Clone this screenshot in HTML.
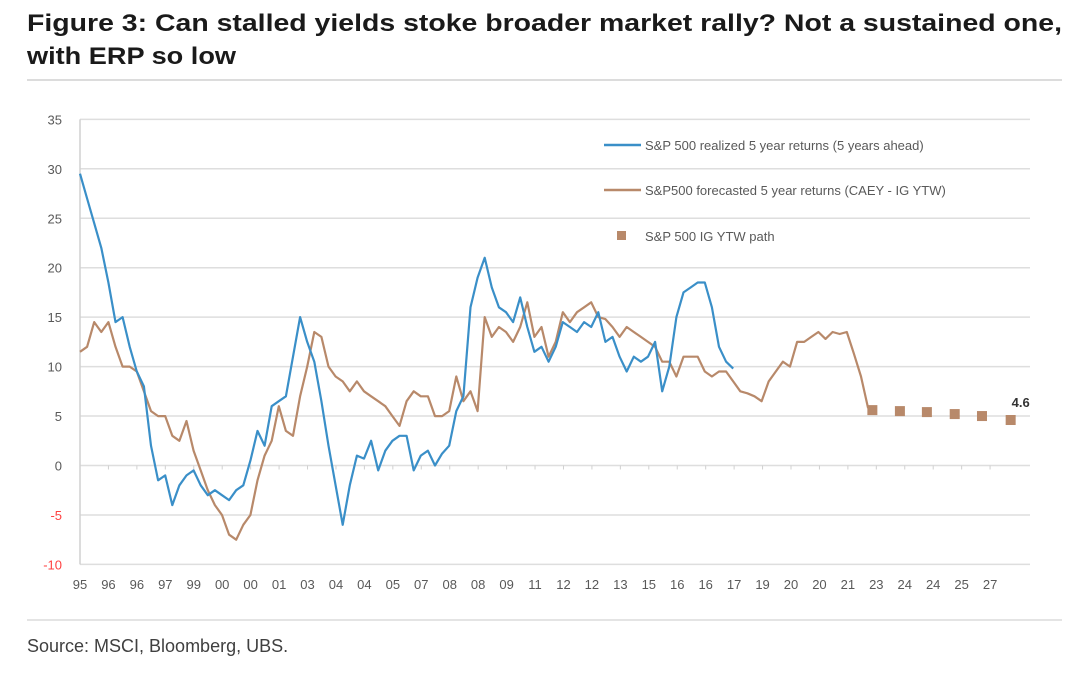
<!DOCTYPE html>
<html><head><meta charset="utf-8"><style>
html,body{margin:0;padding:0;background:#fff;}
svg{display:block;font-family:"Liberation Sans",sans-serif;}
</style></head><body>
<svg id="chart" width="1080" height="684" viewBox="0 0 1080 684" xmlns="http://www.w3.org/2000/svg">
<text x="27" y="31" font-size="24" font-weight="bold" fill="#1a1a1a" textLength="1035" lengthAdjust="spacingAndGlyphs">Figure 3: Can stalled yields stoke broader market rally? Not a sustained one,</text>
<text x="27" y="64" font-size="24" font-weight="bold" fill="#1a1a1a" textLength="209" lengthAdjust="spacingAndGlyphs">with ERP so low</text>
<line x1="27" y1="80" x2="1062" y2="80" stroke="#dcdcdc" stroke-width="2"/>
<g id="grid"></g>
<g id="yticks"></g>
<g id="xticks"></g>
<g id="series"></g>
<g>
<line x1="604" y1="145" x2="641" y2="145" stroke="#3a8fc8" stroke-width="2.5"/>
<text x="645" y="150" font-size="13" fill="#595959">S&amp;P 500 realized 5 year returns (5 years ahead)</text>
<line x1="604" y1="190" x2="641" y2="190" stroke="#b8896a" stroke-width="2.5"/>
<text x="645" y="195" font-size="13" fill="#595959">S&amp;P500 forecasted 5 year returns (CAEY - IG YTW)</text>
<rect x="617" y="231" width="9" height="9" fill="#b8896a"/>
<text x="645" y="241" font-size="13" fill="#595959">S&amp;P 500 IG YTW path</text>
</g>
<text id="endlabel" font-size="13" font-weight="bold" fill="#333">4.6</text>
<line x1="27" y1="620" x2="1062" y2="620" stroke="#dcdcdc" stroke-width="1.5"/>
<text x="27" y="652" font-size="18" fill="#404040">Source: MSCI, Bloomberg, UBS.</text>
</svg>
<script>
var yTicks=[35,30,25,20,15,10,5,0,-5,-10];
var xLabels=["95","96","96","97","99","00","00","01","03","04","04","05","07","08","08","09","11","12","12","13","15","16","16","17","19","20","20","21","23","24","24","25","27"];
var tStep=0.25;
var realized=[29.5,27,24.5,22,18.5,14.5,15,12,9.5,8,2,-1.5,-1,-4,-2,-1,-0.5,-2,-3,-2.5,-3,-3.5,-2.5,-2,0.5,3.5,2,6,6.5,7,11,15,12.5,10.5,6.5,2,-2,-6,-2,1,0.7,2.5,-0.5,1.5,2.5,3,3,-0.5,1,1.5,0,1.2,2,5.5,7,16,19,21,18,16,15.5,14.5,17,14,11.5,12,10.5,12,14.5,14,13.5,14.5,14,15.5,12.5,13,11,9.5,11,10.5,11,12.5,7.5,10,15,17.5,18,18.5,18.5,16,12,10.5,9.8];
var forecast=[11.5,12,14.5,13.5,14.5,12,10,10,9.5,7.5,5.5,5,5,3,2.5,4.5,1.5,-0.5,-2.5,-4,-5,-7,-7.5,-6,-5,-1.5,1,2.5,6,3.5,3,7,10,13.5,13,10,9,8.5,7.5,8.5,7.5,7,6.5,6,5,4,6.5,7.5,7,7,5,5,5.5,9,6.5,7.5,5.5,15,13,14,13.5,12.5,14,16.5,13,14,11,12.5,15.5,14.5,15.5,16,16.5,15,14.8,14,13,14,13.5,13,12.5,12,10.5,10.5,9,11,11,11,9.5,9,9.5,9.5,8.5,7.5,7.3,7,6.5,8.5,9.5,10.5,10,12.5,12.5,13,13.5,12.8,13.5,13.3,13.5,11.3,9,5.8];
var pathT=[27.9,28.87,29.82,30.8,31.76,32.77];
var pathVals=[5.6,5.5,5.4,5.2,5.0,4.6];
var NS="http://www.w3.org/2000/svg";
var X0=80,XU=28.4,Y0=465.5,YU=9.89;
function xs(t){return X0+XU*t;}
function ys(v){return Y0-YU*v;}
function mk(tag,attrs,parent){var e=document.createElementNS(NS,tag);for(var k in attrs)e.setAttribute(k,attrs[k]);parent.appendChild(e);return e;}
var grid=document.getElementById('grid'),yt=document.getElementById('yticks'),xt=document.getElementById('xticks'),ser=document.getElementById('series');
yTicks.forEach(function(v){
  var l=mk('line',{x1:X0,x2:1030,y1:ys(v),y2:ys(v),stroke:'#dedede','stroke-width':1.5},grid);
  
  
  var t=mk('text',{x:62,y:ys(v)+5,'font-size':13,'text-anchor':'end',fill:v<0?'#ff4040':'#595959'},yt);
  t.textContent=String(v);
  
  
});
var ax=mk('line',{x1:X0,x2:X0,y1:ys(35),y2:ys(-10),stroke:'#d0d0d0','stroke-width':1.5},grid);


xLabels.forEach(function(s,i){
  var x=80+28.44*i;
  var tk=mk('line',{x1:x,x2:x,y1:ys(0),y2:ys(0)+4,stroke:'#d0d0d0','stroke-width':1},xt);
  
  
  var t=mk('text',{x:x,y:589,'font-size':13,'text-anchor':'middle',fill:'#595959'},xt);
  t.textContent=s;
  
  
});
function pathOf(arr){return arr.map(function(v,i){return (i?'L':'M')+xs(i*tStep).toFixed(1)+','+ys(v).toFixed(1);}).join('');}
var pf=mk('path',{d:pathOf(forecast),fill:'none',stroke:'#b8896a','stroke-width':2.2,'stroke-linejoin':'round'},ser);


var pr=mk('path',{d:pathOf(realized),fill:'none',stroke:'#3a8fc8','stroke-width':2.2,'stroke-linejoin':'round'},ser);


pathT.forEach(function(t,i){
  var r=mk('rect',{x:xs(t)-5,y:ys(pathVals[i])-5,width:10,height:10,fill:'#b8896a'},ser);
  
  
});
var el=document.getElementById('endlabel');
var last=pathVals.length-1;
el.setAttribute('x',xs(pathT[last])+1);
el.setAttribute('y',ys(pathVals[last])-13);
el.textContent=pathVals[last].toFixed(1);
</script>
</body></html>
